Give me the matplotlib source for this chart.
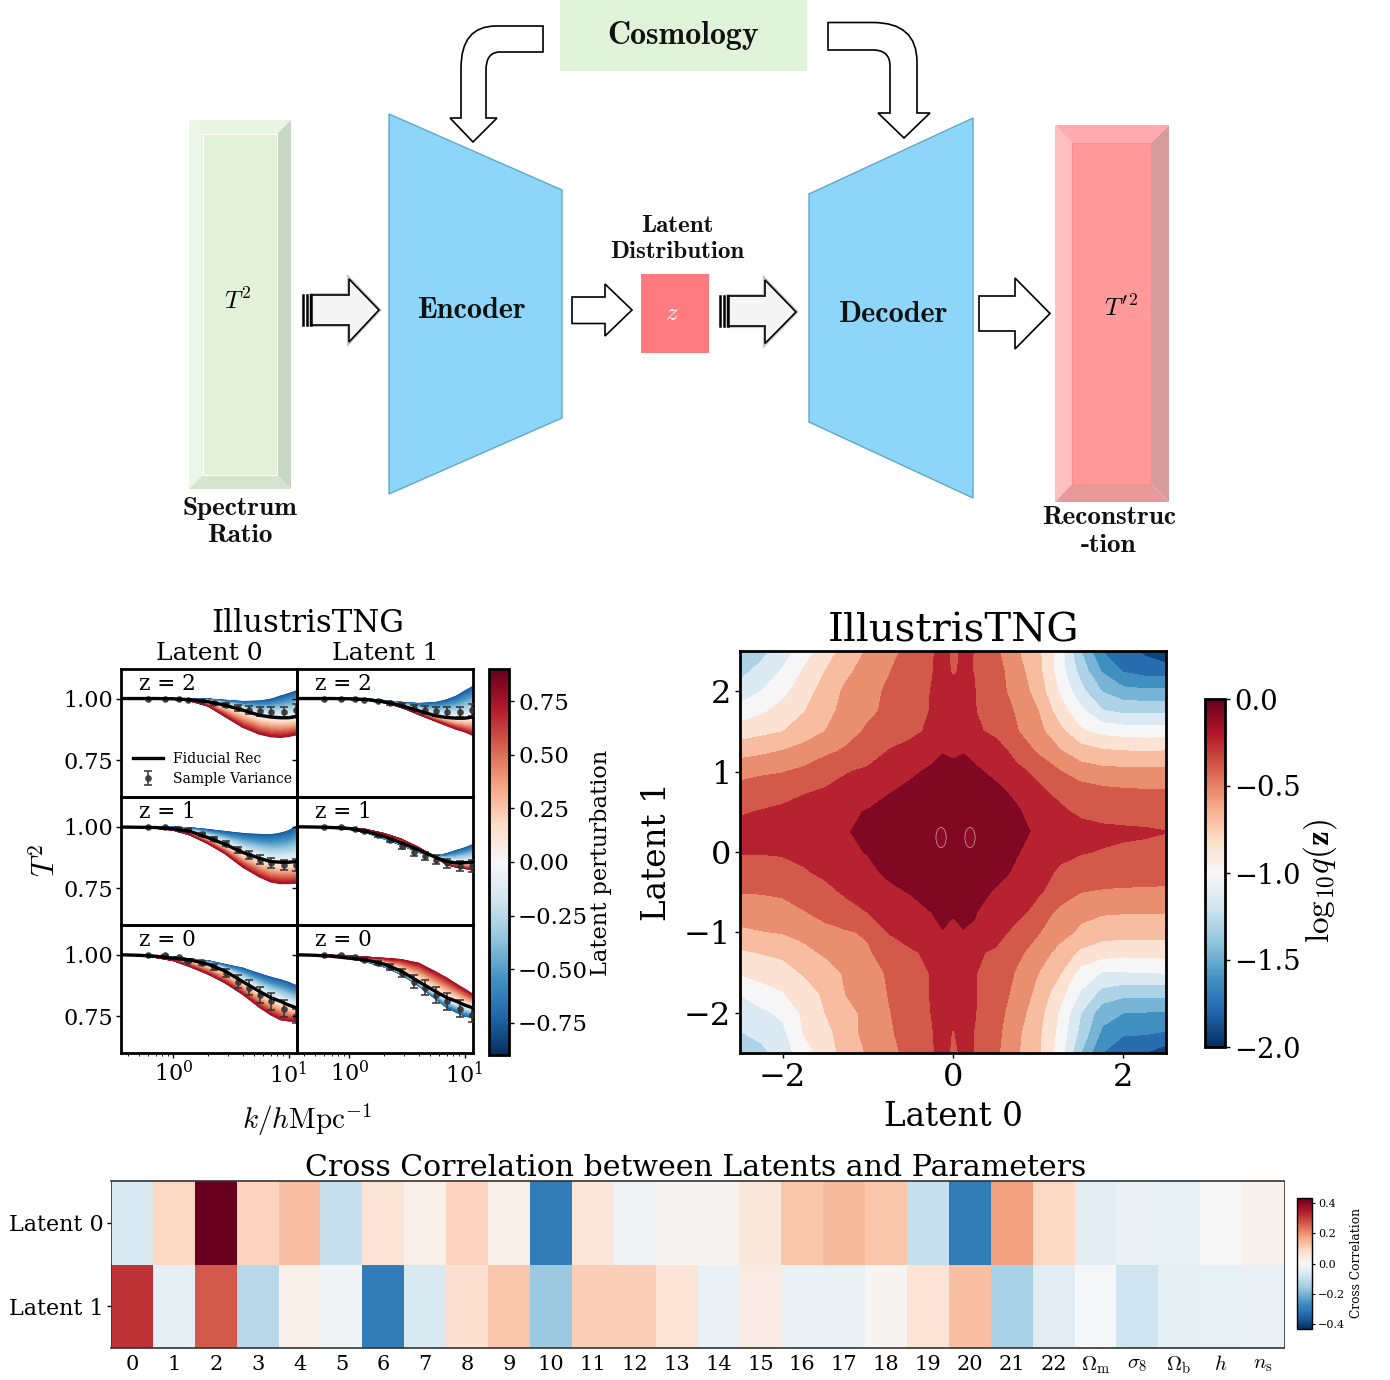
import numpy as np
import matplotlib
matplotlib.use("Agg")
import matplotlib.pyplot as plt
from matplotlib.patches import Polygon, Rectangle, PathPatch, Ellipse
from matplotlib.path import Path
from matplotlib.cm import ScalarMappable
from matplotlib.colors import Normalize

plt.rcParams['font.family'] = ['DejaVu Serif']
plt.rcParams['mathtext.fontset'] = 'cm'

W, H = 1390, 1380
K_NODES = [0.35, 0.5, 0.7, 1.0, 1.4, 2.0, 2.8, 4.0, 5.6, 7.0, 8.5, 10.0, 11.85]
K_POINTS = [0.60, 0.85, 1.11, 1.35, 1.76, 2.27, 2.89, 3.65, 4.5, 5.6, 7.1, 9.1, 11.5]

Z2_L0_FID = [1.0, 1.0, 1.0, .999, .995, .987, .973, .953, .932, .925, .922, .922, .927]
Z2_L0_NEG = [1.0, 1.0, 1.0, 1.0, .999, .998, .993, .988, .99, .997, 1.01, 1.02, 1.032]
Z2_L0_POS = [1.0, 1.0, .999, .997, .99, .969, .927, .883, .855, .845, .842, .846, .853]
Z2_L1_FID = [1.0, 1.0, 1.0, .999, .996, .987, .972, .95, .93, .923, .92, .92, .925]
Z2_L1_NEG = [1.0, 1.0, 1.0, 1.0, .999, .992, .985, .98, .984, .995, 1.01, 1.03, 1.05]
Z2_L1_POS = [1.0, 1.0, 1.0, .998, .994, .983, .965, .935, .908, .89, .875, .865, .85]
Z1_L0_FID = [.998, .997, .996, .991, .98, .955, .928, .895, .871, .858, .855, .855, .858]
Z1_L0_NEG = [.999, .999, .999, .998, .995, .988, .98, .972, .968, .967, .973, .983, 1.003]
Z1_L0_POS = [.998, .996, .993, .985, .965, .93, .89, .835, .795, .775, .768, .768, .77]
Z1_L1_FID = [.999, .998, .996, .992, .98, .96, .935, .905, .875, .858, .852, .853, .855]
Z1_L1_NEG = [.999, .998, .995, .99, .975, .95, .925, .895, .878, .89, .903, .913, .927]
Z1_L1_POS = [1.0, .999, .998, .996, .988, .972, .95, .915, .875, .845, .835, .83, .822]
Z0_L0_FID = [.999, .997, .993, .985, .978, .961, .933, .89, .85, .825, .81, .795, .783]
Z0_L0_NEG = [1.0, .999, .996, .99, .982, .975, .96, .945, .922, .908, .898, .887, .873]
Z0_L0_POS = [.999, .995, .988, .975, .95, .92, .885, .838, .785, .755, .735, .73, .728]
Z0_L1_FID = [.999, .997, .993, .985, .978, .961, .933, .89, .85, .825, .81, .795, .783]
Z0_L1_NEG = [.999, .997, .993, .985, .97, .95, .92, .873, .82, .785, .765, .75, .743]
Z0_L1_POS = [1.0, .999, .997, .995, .99, .985, .98, .965, .93, .905, .88, .86, .838]

SV_Z2 = [.999, .998, .997, .996, .99, .98, .973, .962, .953, .948, .945, .945, .953]
SV_Z1_L0 = [.999, .997, .99, .985, .968, .948, .93, .905, .885, .866, .853, .844, .844]
SV_Z1_L1 = [.999, .997, .988, .98, .965, .945, .92, .895, .88, .865, .85, .84, .84]
SV_Z0_L0 = [.999, .997, .988, .975, .965, .95, .925, .89, .865, .835, .81, .78, .75]
SV_Z0_L1 = [.999, .997, .988, .978, .965, .95, .925, .89, .865, .835, .81, .78, .755]
ERR_Z2 = [.001, .001, .002, .003, .004, .006, .008, .012, .015, .018, .02, .022, .025]
ERR_Z1 = [.001, .002, .003, .004, .006, .008, .01, .013, .016, .018, .02, .022, .025]
ERR_Z0 = [.001, .002, .004, .006, .008, .012, .018, .025, .03, .032, .035, .035, .03]
Z_NAMES = ['z = 2', 'z = 1', 'z = 0']

# log10 q(z) read on a grid, in units of one contour step (top row first)
LATENT_X = [-2.5, -2.25, -2.0, -1.75, -1.5, -1.25, -1.0, -.75, -.5, -.25, -.125, 0, .125, .25, .5, .75, 1.0, 1.25, 1.5, 1.75, 2.0, 2.25, 2.5]
LATENT_Y = [2.5, 2.25, 2.0, 1.75, 1.5, 1.25, 1.0, .75, .5, .25, 0, -.25, -.5, -.75, -1.0, -1.25, -1.5, -1.75, -2.0, -2.25, -2.5]
Q_STEPS = [
 [8.7,8.3,7.5,6.5,5.5,4.6,3.9,3.3,2.7,2.1,1.7,2.15,1.85,2.02,2.8,3.9,4.8,6.5,9,11,11.6,12.2,12.8],
 [8.3,7.7,6.9,5.9,5.0,4.2,3.6,3.05,2.5,2.05,1.72,2.1,1.88,2.02,2.6,3.6,4.7,6.5,8.4,10.1,11.1,11.4,11.5],
 [7.6,7.0,6.3,5.45,4.6,3.8,3.3,2.85,2.4,1.97,1.7,1.7,1.7,1.97,2.65,3.35,4.45,6.1,7.7,9.05,9.7,9.8,9.8],
 [6.6,6.15,5.65,5.05,4.35,3.65,3.2,2.8,2.35,1.95,1.6,1.55,1.6,1.95,2.5,3.1,4.0,5.5,6.7,7.9,8.2,8.2,8.2],
 [5.5,5.25,5.02,4.55,4.0,3.4,2.85,2.55,2.2,1.85,1.55,1.5,1.55,1.85,2.2,2.95,3.7,4.7,5.85,6.3,6.45,6.5,6.5],
 [4.4,4.2,3.95,3.6,3.2,2.85,2.45,1.95,1.7,1.3,1.05,1.2,1.05,1.25,1.6,2.3,3.15,3.9,4.5,4.85,4.95,5.0,4.95],
 [3.3,3.15,3.05,2.8,2.4,2.05,1.85,1.55,1.15,0.85,0.6,0.7,0.6,0.85,1.2,1.8,2.2,2.95,3.55,3.7,3.75,3.75,3.75],
 [2.65,2.5,2.35,2.08,1.9,1.7,1.4,1.05,.8,.5,.42,.45,.42,.5,.8,1.2,1.85,2.2,2.5,2.75,2.85,2.9,2.9],
 [2.1,1.95,1.8,1.6,1.35,1.15,.95,.7,.4,.3,.25,.25,.25,.3,.45,.9,1.4,1.85,2.15,2.3,2.35,2.35,2.4],
 [1.65,1.55,1.45,1.3,1.2,1.05,.8,.45,.25,.15,.1,.1,.1,.15,.25,.6,1.25,1.55,1.72,1.8,1.85,1.9,1.98],
 [1.95,1.95,1.9,1.75,1.45,1.2,.95,.6,.4,.25,.2,.2,.2,.25,.4,.95,1.3,1.75,1.95,2.05,2.15,2.2,2.3],
 [2.4,2.4,2.35,2.1,1.8,1.55,1.25,.8,.6,.45,.4,.4,.4,.45,.7,1.15,1.6,2.15,2.35,2.5,2.55,2.6,2.6],
 [2.95,2.95,2.85,2.65,2.3,1.85,1.55,1.25,.95,.7,.6,.6,.6,.7,1.1,1.55,1.9,2.4,3.0,3.1,3.15,3.15,3.2],
 [3.55,3.5,3.4,3.05,2.75,2.4,2.0,1.7,1.4,1.0,.75,.9,.75,.95,1.4,1.7,2.35,3.3,3.7,3.9,3.95,3.95,3.98],
 [4.2,4.05,3.95,3.7,3.25,3.1,2.9,1.95,1.7,1.3,1.05,1.3,1.05,1.1,1.6,2.35,2.95,3.55,4.25,4.6,4.65,4.65,4.65],
 [5.15,4.95,4.8,4.3,3.85,3.5,3.1,2.65,2.1,1.85,1.75,1.7,1.75,1.85,2.15,2.8,3.4,4.4,5.2,5.55,5.7,5.7,5.6],
 [5.9,5.65,5.4,4.9,4.5,3.85,3.5,2.85,2.35,1.95,1.8,1.8,1.8,1.95,2.35,3.1,4.0,4.9,6.4,7.05,7.05,7.0,6.95],
 [6.95,6.4,6.05,5.4,4.85,3.95,3.6,2.95,2.4,1.95,1.8,1.85,1.8,1.95,2.45,3.3,4.3,5.6,7.1,8.3,8.7,8.7,8.7],
 [7.4,7.2,6.8,5.8,5.0,4.3,3.75,3.05,2.5,1.98,1.8,1.85,1.8,1.95,2.6,3.55,4.6,6.1,8.0,9.6,10.0,10.05,10.1],
 [8.05,7.7,7.25,5.95,5.4,4.35,3.75,3.15,2.55,2.05,1.75,2.05,1.8,2.02,2.7,3.8,4.8,6.3,8.3,10.2,10.9,10.9,11.1],
 [8.7,8.3,7.5,6.5,5.5,4.6,3.9,3.3,2.7,2.1,1.7,2.15,1.85,2.02,2.8,3.9,4.8,6.5,9,11,11.6,12.0,12.6],
]
Q_STEP_SIZE = 2 / 13
PEAK_X = [-.14, .2]
PEAK_Y = [.18, .18]

CORR_LABELS = [str(i) for i in range(23)] + [r'$\Omega_{\rm m}$', r'$\sigma_8$', r'$\Omega_{\rm b}$', r'$h$', r'$n_{\rm s}$']
CORR_LATENT0 = [-.07, .09, .43, .1, .13, -.1, .06, .025, .1, .025, -.3, .055, -.02, .01, .01, .05, .12, .14, .12, -.1, -.3, .175, .09, -.05, -.03, -.035, 0, .015]
CORR_LATENT1 = [.31, -.04, .265, -.12, .025, -.015, -.3, -.07, .07, .12, -.16, .105, .105, .06, -.03, .035, -.03, -.03, .01, .06, .13, -.14, -.05, -.005, -.09, -.04, -.035, -.03]

fig = plt.figure(figsize=(W / 100, H / 100), dpi=100)


def rect(x0, y0, x1, y1):
    return [x0 / W, 1 - y1 / H, (x1 - x0) / W, (y1 - y0) / H]


bg = fig.add_axes([0, 0, 1, 1])
bg.set_xlim(0, W)
bg.set_ylim(H, 0)
bg.axis('off')


def poly(pts, fc, ec='none', lw=0, z=2):
    bg.add_patch(Polygon(pts, closed=True, fc=fc, ec=ec, lw=lw, zorder=z))


def bevel(ox0, oy0, ox1, oy1, ix0, iy0, ix1, iy1, face, top, left, right, bottom, line):
    poly([(ox0, oy0), (ox1, oy0), (ix1, iy0), (ix0, iy0)], top)
    poly([(ox0, oy0), (ix0, iy0), (ix0, iy1), (ox0, oy1)], left)
    poly([(ox1, oy0), (ix1, iy0), (ix1, iy1), (ox1, oy1)], right)
    poly([(ox0, oy1), (ix0, iy1), (ix1, iy1), (ox1, oy1)], bottom)
    poly([(ix0, iy0), (ix1, iy0), (ix1, iy1), (ix0, iy1)], face, ec=line, lw=0.8)


bevel(189, 120, 291, 489, 203, 134, 277, 475, '#e1f2d9', '#e9f5e3', '#edf7e9', '#c9d6c3', '#d5e4cf', '#ffffff')
bevel(1055, 125, 1169, 502, 1072, 143, 1151, 484, '#ff9a9a', '#ffabb0', '#ffc0c0', '#d69c9c', '#e89a9a', '#f78f8f')
poly([(389, 114), (562, 190), (562, 418), (389, 494)], '#8dd6fa', ec='#5fa8c8', lw=1)
poly([(809, 194), (973, 118), (973, 498), (809, 422)], '#8dd6fa', ec='#5fa8c8', lw=1)
bg.add_patch(Rectangle((641, 274), 68, 79, fc='#ff7b80', ec='none', zorder=2))
bg.add_patch(Rectangle((560, 0), 247, 71, fc='#e0f2d8', ec='none', zorder=2))


def block_arrow(x0, xb, xt, ym, y_s0, y_s1, y_h0, y_h1, fc='white', shadow=False):
    pts = [(x0, y_s0), (xb, y_s0), (xb, y_h0), (xt, ym), (xb, y_h1), (xb, y_s1), (x0, y_s1)]
    if shadow:
        poly(pts, '#c4c4c4', ec='#c4c4c4', lw=3.0, z=3)
    poly(pts, fc, ec='black', lw=1.2, z=4)


def stripes(x0, x1, y0, y1):
    for t in np.linspace(x0, x1, 3):
        bg.plot([t, t], [y0, y1], color='black', lw=1.8, zorder=5)


block_arrow(311, 349, 379, 310, 295, 325, 279, 342, '#f5f5f5', True)
stripes(303, 311, 295, 325)
block_arrow(572, 605, 632, 310, 297, 323.5, 284, 336)
block_arrow(728, 765, 796, 312, 296, 326, 280, 343.5, '#f5f5f5', True)
stripes(720, 728, 296, 326)
block_arrow(979, 1015, 1050, 313.5, 296, 331, 278, 349)

M, L, C, Z = Path.MOVETO, Path.LINETO, Path.CURVE3, Path.CLOSEPOLY
bent_left = Path(
    [(543, 26), (496, 26), (461, 26), (461, 68), (461, 118), (450, 118), (473, 142), (497, 118), (486, 118),
     (486, 70), (486, 52), (500, 52), (543, 52), (543, 26)],
    [M, L, C, C, L, L, L, L, L, L, C, C, L, Z])
bent_right = Path(
    [(828, 22.5), (873, 22.5), (917, 22.5), (917, 62), (917, 113), (930, 113), (904, 138), (878, 113), (890, 113),
     (890, 66), (890, 50), (873, 50), (828, 50), (828, 22.5)],
    [M, L, C, C, L, L, L, L, L, L, C, C, L, Z])
for p in (bent_left, bent_right):
    bg.add_patch(PathPatch(p, fc='white', ec='black', lw=1.2, zorder=4))

diag = dict(family='cmb10', ha='center', va='center', color='#111111', zorder=6)
bg.text(683, 35, 'Cosmology', fontsize=23, **diag)
bg.text(472, 310, 'Encoder', fontsize=21.7, **diag)
bg.text(894, 314, 'Decoder', fontsize=21.7, **diag)
bg.text(677, 226, 'Latent', fontsize=18, **diag)
bg.text(677, 252, 'Distribution', fontsize=18, **diag)
bg.text(240, 508, 'Spectrum', fontsize=19.6, **diag)
bg.text(240, 536, 'Ratio', fontsize=19.6, **diag)
bg.text(1109, 517, 'Reconstruc', fontsize=19.6, **diag)
bg.text(1109, 545, '-tion', fontsize=19.6, **diag)
bg.text(238, 301, r'$T^2$', fontsize=18, ha='center', va='center', zorder=6)
bg.text(1121, 308, r"$T'^2$", fontsize=18, ha='center', va='center', zorder=6)
bg.text(672, 314, r'$z$', fontsize=18, color='white', ha='center', va='center', zorder=6)

# ---- latent perturbation panels
panels = [
    [(Z2_L0_NEG, Z2_L0_FID, Z2_L0_POS, SV_Z2, ERR_Z2), (Z2_L1_NEG, Z2_L1_FID, Z2_L1_POS, SV_Z2, ERR_Z2)],
    [(Z1_L0_NEG, Z1_L0_FID, Z1_L0_POS, SV_Z1_L0, ERR_Z1), (Z1_L1_NEG, Z1_L1_FID, Z1_L1_POS, SV_Z1_L1, ERR_Z1)],
    [(Z0_L0_NEG, Z0_L0_FID, Z0_L0_POS, SV_Z0_L0, ERR_Z0), (Z0_L1_NEG, Z0_L1_FID, Z0_L1_POS, SV_Z0_L1, ERR_Z0)],
]
col_x = [(121, 297), (297, 473)]
row_y = [(669, 797), (797, 925), (925, 1053)]
pnorm = Normalize(-0.9, 0.9)
EDGE = 0.75
shade = np.linspace(-EDGE, EDGE, 61)
for r, (y0, y1) in enumerate(row_y):
    for c, (x0, x1) in enumerate(col_x):
        neg, fid, pos, sv, err = panels[r][c]
        ax = fig.add_axes(rect(x0, y0, x1, y1))
        ax.patch.set_alpha(0)
        k = np.array(K_NODES)
        ys = np.array([np.interp(shade, [-EDGE, 0, EDGE], [a, b, d]) for a, b, d in zip(neg, fid, pos)]).T
        xs = np.tile(k, (len(shade), 1))
        cs = np.tile(shade[:, None], (1, len(k)))
        ax.pcolormesh(xs, ys, cs, cmap='RdBu_r', norm=pnorm, shading='gouraud', zorder=1, rasterized=True)
        eb = ax.errorbar(K_POINTS, sv, yerr=err, fmt='o', ms=3.8, color='#333333', alpha=0.85,
                         capsize=3, elinewidth=1.3, capthick=1.3, zorder=3, label='Sample Variance')
        ln, = ax.plot(K_NODES, fid, color='black', lw=2.4, zorder=4, label='Fiducial Rec')
        ax.set_xscale('log')
        ax.set_xlim(0.35, 11.85)
        ax.set_ylim(0.60, 1.12)
        ax.set_yticks([0.75, 1.0])
        ax.set_yticklabels(['0.75', '1.00'] if c == 0 else [])
        ax.tick_params(axis='both', which='major', labelsize=16, length=3.5, width=1, pad=2.5)
        ax.tick_params(axis='x', which='minor', length=2, width=0.7)
        if r < 2:
            ax.tick_params(axis='x', which='both', bottom=False, labelbottom=False)
        for s in ax.spines.values():
            s.set_linewidth(2)
        ax.text(0.10, 0.885, Z_NAMES[r], transform=ax.transAxes, fontsize=15.5, ha='left', va='center', zorder=6)
        if r == 0 and c == 0:
            ax.legend([ln, eb], ['Fiducial Rec', 'Sample Variance'], frameon=False, fontsize=10, loc='lower left',
                      bbox_to_anchor=(0.012, 0.012), handlelength=2.2, labelspacing=0.42, borderpad=0.2, handletextpad=0.7)

bg.text(308, 624, 'IllustrisTNG', fontsize=22.2, ha='center', va='center')
bg.text(209, 654, 'Latent 0', fontsize=18, ha='center', va='center')
bg.text(385, 654, 'Latent 1', fontsize=18, ha='center', va='center')
bg.text(46, 860, r'$T^2$', fontsize=22, rotation=90, ha='center', va='center')
bg.text(307, 1120, r'$k/h\mathrm{Mpc}^{-1}$', fontsize=21, ha='center', va='center')
bg.text(601, 863, 'Latent perturbation', fontsize=16.2, rotation=90, ha='center', va='center')

cax = fig.add_axes(rect(489, 669, 509, 1055))
cb = fig.colorbar(ScalarMappable(norm=pnorm, cmap='RdBu_r'), cax=cax)
cb.set_ticks([-.75, -.5, -.25, 0, .25, .5, .75])
cb.set_ticklabels(['\u22120.75', '\u22120.50', '\u22120.25', '0.00', '0.25', '0.50', '0.75'])
cb.ax.tick_params(labelsize=16.5, length=3.5, width=1, pad=3)
cb.outline.set_linewidth(2)

# ---- latent contour
ax2 = fig.add_axes(rect(740, 651, 1166, 1053))
ax2.patch.set_alpha(0)
Q_LOG = -np.array(Q_STEPS) * Q_STEP_SIZE
levels = np.linspace(-2, 0, 14)
ax2.contourf(LATENT_X, LATENT_Y, Q_LOG, levels=levels, cmap='RdBu_r', vmin=-2, vmax=0)
for px, py in zip(PEAK_X, PEAK_Y):
    ax2.add_patch(Ellipse((px, py), 0.12, 0.25, fc='#8a0c25', ec='#c98f99', lw=0.6, zorder=3))
ax2.set_xlim(-2.5, 2.5)
ax2.set_ylim(-2.5, 2.5)
ax2.set_xticks([-2, 0, 2])
ax2.set_yticks([-2, -1, 0, 1, 2])
ax2.tick_params(labelsize=23, length=3.5, width=1, pad=3)
for s in ax2.spines.values():
    s.set_linewidth(2)
bg.text(953, 631, 'IllustrisTNG', fontsize=29, ha='center', va='center')
bg.text(953, 1117, 'Latent 0', fontsize=23.5, ha='center', va='center')
bg.text(657, 852, 'Latent 1', fontsize=23.5, rotation=90, ha='center', va='center')

cax2 = fig.add_axes(rect(1205, 699, 1225, 1047))
cb2 = fig.colorbar(ScalarMappable(norm=Normalize(-2, 0), cmap='RdBu_r'), cax=cax2)
cb2.set_ticks([-2, -1.5, -1, -.5, 0])
cb2.ax.tick_params(labelsize=19.7, length=3.5, width=1, pad=3)
cb2.outline.set_linewidth(2)
bg.text(1320, 881, r'$\mathrm{log}_{10}q(\mathbf{z})$', fontsize=24, rotation=90, ha='center', va='center')

# ---- cross correlation
ax3 = fig.add_axes(rect(111, 1181, 1284, 1348))
ax3.patch.set_alpha(0)
corr = np.array([CORR_LATENT0, CORR_LATENT1])
cnorm = Normalize(-0.43, 0.43)
ax3.pcolormesh(np.arange(len(CORR_LABELS) + 1), [0, 1, 2], corr, cmap='RdBu_r', norm=cnorm)
ax3.set_ylim(2, 0)
ax3.set_xticks(np.arange(len(CORR_LABELS)) + .5)
ax3.set_xticklabels(CORR_LABELS, fontsize=15)
ax3.set_yticks([.5, 1.5])
ax3.set_yticklabels(['Latent 0', 'Latent 1'], fontsize=16)
ax3.tick_params(length=3, width=1, pad=2)
ax3.tick_params(axis='x', length=0, pad=5)
for n, s in ax3.spines.items():
    s.set_linewidth(1.2 if n in ('top', 'bottom') else 0.6)
    s.set_color('#333333')
bg.text(696, 1168, 'Cross Correlation between Latents and Parameters', fontsize=21.6, ha='center', va='center')

cax3 = fig.add_axes(rect(1297, 1198, 1312, 1329))
cb3 = fig.colorbar(ScalarMappable(norm=cnorm, cmap='RdBu_r'), cax=cax3)
cb3.set_ticks([-.4, -.2, 0, .2, .4])
cb3.ax.tick_params(labelsize=8, length=2.5, width=0.8, pad=2)
cb3.outline.set_linewidth(1.0)
bg.text(1356, 1263, 'Cross Correlation', fontsize=8.8, rotation=90, ha='center', va='center')

fig.savefig('out.png', dpi=100)
